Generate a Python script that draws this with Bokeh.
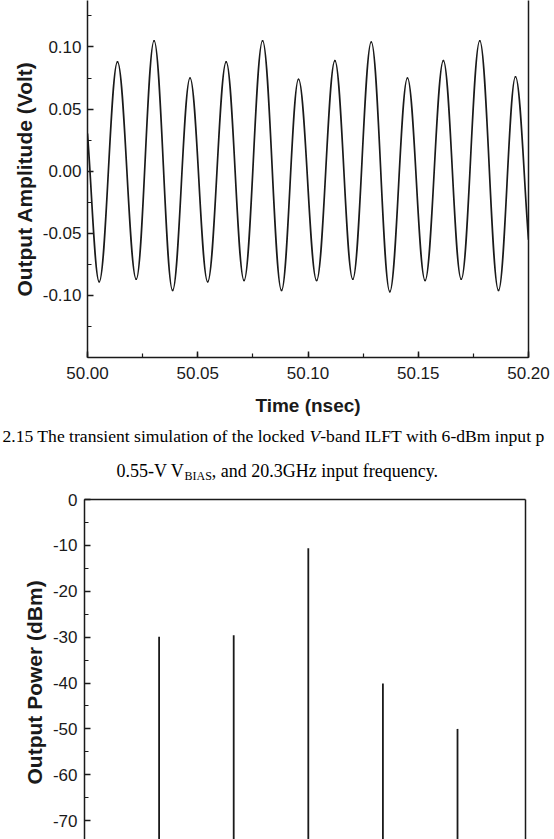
from math import pi
from bokeh.plotting import figure
from bokeh.layouts import column
from bokeh.models import Range1d, LinearAxis, SingleIntervalTicker, FixedTicker, NumeralTickFormatter, Title
from bokeh.core.properties import value
from bokeh.embed import file_html
from bokeh.resources import INLINE

# ---------------- data ----------------
# Transient waveform: start, alternating trough/peak extrema, end
wave_time = [50.0000, 50.0053, 50.0136, 50.0221, 50.0302, 50.0386, 50.0465, 50.0545,
             50.0629, 50.0710, 50.0794, 50.0880, 50.0957, 50.1039, 50.1122, 50.1203,
             50.1287, 50.1371, 50.1451, 50.1531, 50.1614, 50.1695, 50.1779, 50.1864,
             50.1941, 50.2000]
wave_amp = [0.030, -0.089, 0.088, -0.087, 0.105, -0.096, 0.075, -0.089,
            0.088, -0.088, 0.105, -0.096, 0.074, -0.088, 0.089, -0.087,
            0.104, -0.097, 0.075, -0.088, 0.089, -0.087, 0.105, -0.096,
            0.076, -0.055]

# Output spectrum (GHz, dBm)
spec_freq = [20.3, 40.6, 60.9, 81.2, 101.5]
spec_power = [-29.9, -29.6, -10.6, -40.1, -50.0]
spec_floor = -80.0

caption_1a = "2.15 The transient simulation of the locked"
caption_1b = "V"
caption_1c = "-band ILFT with 6-dBm input p"
caption_2a = "0.55-V V"
caption_2b = "BIAS"
caption_2c = ", and 20.3GHz input frequency."

TICK_FONT = "Liberation Sans"
TITLE_FONT = "Liberation Sans"
INK = "#1a1a1a"


def style_axis(ax, tick_in=6, minor_in=4):
    ax.axis_line_width = 1.5
    ax.axis_line_color = INK
    ax.major_tick_in = tick_in
    ax.major_tick_out = 0
    ax.minor_tick_in = minor_in
    ax.minor_tick_out = 0
    ax.major_tick_line_width = 1.5
    ax.minor_tick_line_width = 1.2
    ax.major_tick_line_color = INK
    ax.minor_tick_line_color = INK
    ax.major_label_text_font = TICK_FONT
    ax.major_label_text_font_size = "17px"
    ax.major_label_text_color = INK
    ax.axis_label_text_font = TITLE_FONT
    ax.axis_label_text_font_style = "bold"
    ax.axis_label_text_font_size = "21px"
    ax.axis_label_text_color = INK


def plain_border():
    ax = LinearAxis(ticker=FixedTicker(ticks=[]))
    ax.axis_line_width = 1.5
    ax.axis_line_color = INK
    ax.major_tick_line_color = None
    ax.minor_tick_line_color = None
    return ax


# ---------------- top: transient ----------------
p1 = figure(width=554, height=423, x_range=Range1d(50.0, 50.2), y_range=Range1d(-0.15, 0.1374),
            output_backend="svg", toolbar_location=None,
            min_border_left=87, min_border_right=26, min_border_top=0, min_border_bottom=66)
p1.frame_align = False
p1.outline_line_color = None
p1.grid.visible = False
p1.background_fill_color = "white"
p1.border_fill_color = "white"

p1.xaxis.ticker = SingleIntervalTicker(interval=0.05, num_minor_ticks=2)
p1.xaxis.formatter = NumeralTickFormatter(format="0.00")
p1.xaxis.axis_label = "Time (nsec)"
p1.yaxis.ticker = SingleIntervalTicker(interval=0.05, num_minor_ticks=2)
p1.yaxis.formatter = NumeralTickFormatter(format="0.00")
p1.yaxis.axis_label = "Output Amplitude (Volt)"
for ax in p1.xaxis:
    style_axis(ax)
    ax.major_label_standoff = 9
    ax.axis_label_standoff = 13
    ax.axis_label_text_font_size = "19px"
for ax in p1.yaxis:
    style_axis(ax)
    ax.major_label_standoff = 6
    ax.axis_label_standoff = 4
p1.add_layout(plain_border(), "right")

# smooth curve through the read extrema (horizontal tangents at extrema)
k = 0.3634
bx0, by0, bx1, by1, cx0, cy0, cx1, cy1 = [], [], [], [], [], [], [], []
n = len(wave_time)
for i in range(n - 1):
    x0, y0, x1, y1 = wave_time[i], wave_amp[i], wave_time[i + 1], wave_amp[i + 1]
    dx, dy = x1 - x0, y1 - y0
    bx0.append(x0); by0.append(y0); bx1.append(x1); by1.append(y1)
    if i > 0:
        cx0.append(x0 + k * dx); cy0.append(y0)
    else:
        cx0.append(x0 + dx / 3); cy0.append(y0 + dy / 3)
    if i + 1 < n - 1:
        cx1.append(x1 - k * dx); cy1.append(y1)
    else:
        cx1.append(x1 - dx / 3); cy1.append(y1 - dy / 3)
p1.bezier(x0=bx0, y0=by0, x1=bx1, y1=by1, cx0=cx0, cy0=cy0, cx1=cx1, cy1=cy1,
          line_color=INK, line_width=1.7, line_cap="round")

# ---------------- caption ----------------
cap = figure(width=554, height=60, x_range=Range1d(0, 554), y_range=Range1d(60, 0),
             output_backend="svg", toolbar_location=None,
             x_axis_location=None, y_axis_location=None,
             min_border_left=0, min_border_right=0, min_border_top=0, min_border_bottom=0)
cap.frame_align = False
cap.outline_line_color = None
cap.grid.visible = False
serif = value("Liberation Serif")
f1 = 17.6
em1 = f1 / 1000.0
x1a = 2.0
x1b = x1a + 17443 * em1
x1c = x1b + 611 * em1
for xx, tt, st in [(x1a, caption_1a, "normal"), (x1b, caption_1b, "italic"), (x1c, caption_1c, "normal")]:
    cap.text(x=[xx], y=[12], text=[tt], text_font=serif, text_font_size=value("%.1fpx" % f1),
             text_font_style=value(st), text_baseline=value("middle"), text_align=value("left"),
             text_color="black")
em2 = 18.0 / 1000.0
x2a = 116.0
x2b = x2a + 3777 * em2
x2c = x2b + 2278 * 12.0 / 1000.0
cap.text(x=[x2a], y=[47], text=[caption_2a], text_font=serif, text_font_size=value("18px"),
         text_baseline=value("middle"), text_align=value("left"), text_color="black")
cap.text(x=[x2b], y=[52], text=[caption_2b], text_font=serif, text_font_size=value("12px"),
         text_baseline=value("middle"), text_align=value("left"), text_color="black")
cap.text(x=[x2c], y=[47], text=[caption_2c], text_font=serif, text_font_size=value("18px"),
         text_baseline=value("middle"), text_align=value("left"), text_color="black")

# ---------------- bottom: spectrum ----------------
p2 = figure(width=554, height=356, x_range=Range1d(0, 120), y_range=Range1d(-74.1, 0),
            output_backend="svg", toolbar_location=None, x_axis_location=None,
            min_border_left=84, min_border_right=29, min_border_top=16, min_border_bottom=0)
p2.frame_align = False
p2.outline_line_color = None
p2.grid.visible = False
p2.yaxis.ticker = SingleIntervalTicker(interval=10, num_minor_ticks=2)
p2.yaxis.formatter = NumeralTickFormatter(format="0")
for ax in p2.yaxis:
    style_axis(ax)
    ax.major_label_standoff = 7
p2.add_layout(plain_border(), "right")
p2.add_layout(plain_border(), "above")
p2.segment(x0=spec_freq, y0=[spec_floor] * len(spec_freq), x1=spec_freq, y1=spec_power,
           line_color=INK, line_width=1.8)
p2.add_layout(Title(text="Output Power (dBm)", align="left", offset=55, standoff=8,
                    text_font=TITLE_FONT, text_font_style="bold", text_font_size="21px",
                    text_color=INK), "left")

layout = column(p1, cap, p2, spacing=0)
open("out.html", "w").write(file_html(layout, INLINE))
